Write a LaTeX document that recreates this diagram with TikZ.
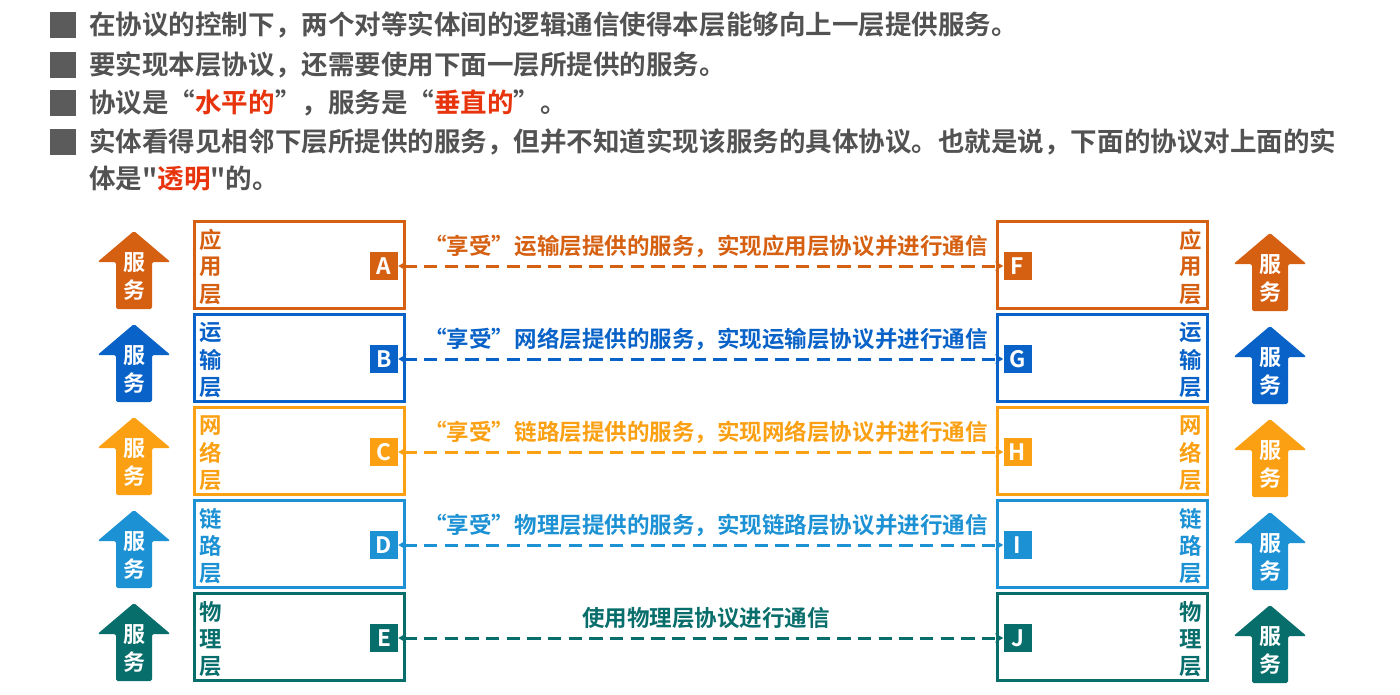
\documentclass[tikz,border=0pt]{standalone}
\usepackage{fontspec}
\setmainfont{Noto Sans CJK SC}[BoldFont={* Bold}]
\newfontfamily\plainq{Noto Sans CJK SC}[BoldFont={* Bold}, Ligatures=ResetAll]
\usetikzlibrary{arrows.meta}
\definecolor{cApp}{RGB}{214,96,18}
\definecolor{cTr}{RGB}{8,98,200}
\definecolor{cNet}{RGB}{250,160,18}
\definecolor{cLink}{RGB}{28,145,212}
\definecolor{cPhy}{RGB}{8,110,108}
\definecolor{cRed}{RGB}{232,52,12}
\definecolor{cGrey}{RGB}{82,82,82}
\tikzset{
  layerbox/.style={draw, line width=2.25pt, fill=white, minimum width=157.5pt, minimum height=65.25pt, inner sep=0pt},
  letterbox/.style={minimum size=21pt, inner sep=0pt, text=white, font=\bfseries\fontsize{17}{17}\selectfont},
  laychar/.style={inner sep=0pt, font=\bfseries\fontsize{16.8}{16.8}\selectfont},
  servchar/.style={inner sep=0pt, text=white, font=\bfseries\fontsize{16.5}{16.5}\selectfont},
  conn/.style={line width=2.25pt, dash pattern=on 10pt off 5.5pt, {Stealth[length=6pt,width=7pt]}-{Stealth[length=6pt,width=7pt]}},
  lbl/.style={inner sep=0pt, font=\bfseries\fontsize{16.9}{16.9}\selectfont},
  toptxt/.style={anchor=west, inner sep=0pt, text=cGrey, font=\bfseries\fontsize{19.9}{19.9}\selectfont},
  bulletsq/.style={fill=cGrey!95, minimum size=19.5pt, inner sep=0pt}
}
\newcommand\servarrow[4]{% #1 name, #2 x center, #3 top y, #4 color
  \fill[#4, rounded corners=1.2pt] (#2,#3) -- (#2+36.5,#3+31) -- (#2+18,#3+31) -- (#2+18,#3+78)
     -- (#2-18,#3+78) -- (#2-18,#3+31) -- (#2-36.5,#3+31) -- cycle;
  \node[servchar] (#1a) at (#2,#3+32) {服};
  \node[servchar] (#1b) at (#2,#3+59) {务};
}
\newcommand\mklayer[9]{% #1 id, #2 color, #3 top y, #4-#6 chars, #7 left letter, #8 right letter, #9 label
  \node[layerbox, draw=#2] (L#1) at (299.5,#3+45) {};
  \node[layerbox, draw=#2] (R#1) at (1102,#3+45) {};
  \node[laychar, text=#2] (L#1c1) at (211,#3+20) {#4};
  \node[laychar, text=#2] (L#1c2) at (211,#3+47) {#5};
  \node[laychar, text=#2] (L#1c3) at (211,#3+75) {#6};
  \node[laychar, text=#2] (R#1c1) at (1191,#3+20) {#4};
  \node[laychar, text=#2] (R#1c2) at (1191,#3+47) {#5};
  \node[laychar, text=#2] (R#1c3) at (1191,#3+75) {#6};
  \node[letterbox, fill=#2] (#7) at (384,#3+46) {#7};
  \node[letterbox, fill=#2] (#8) at (1017.5,#3+46) {#8};
  \draw[conn, #2] (#7) -- (#8);
  \node[lbl, text=#2] (T#1) at (706,#3+26) {#9};
  \servarrow{SL#1}{134}{#3+11}{#2}
  \servarrow{SR#1}{1270}{#3+13}{#2}
}
\begin{document}
\begin{tikzpicture}[x=0.75pt,y=-0.75pt]
\useasboundingbox[fill=white] (0,0) rectangle (1400,694);
% top bullets
\node[bulletsq] (b1) at (63,25) {};
\node[toptxt] (t1) at (89,25) {在协议的控制下，两个对等实体间的逻辑通信使得本层能够向上一层提供服务。};
\node[bulletsq] (b2) at (63,65) {};
\node[toptxt] (t2) at (89,65) {要实现本层协议，还需要使用下面一层所提供的服务。};
\node[bulletsq] (b3) at (63,103) {};
\node[toptxt] (t3) at (89,103) {协议是“\textcolor{cRed}{水平的}”，服务是“\textcolor{cRed}{垂直的}”。};
\node[bulletsq] (b4) at (63,142) {};
\node[toptxt] (t4) at (89,142) {实体看得见相邻下层所提供的服务，但并不知道实现该服务的具体协议。也就是说，下面的协议对上面的实};
\node[toptxt] (t5) at (89,179) {\plainq\bfseries 体是"\textcolor{cRed}{透明}"的。};
% layers
\mklayer{1}{cApp}{220}{应}{用}{层}{A}{F}{“享受”运输层提供的服务，实现应用层协议并进行通信}
\mklayer{2}{cTr}{313}{运}{输}{层}{B}{G}{“享受”网络层提供的服务，实现运输层协议并进行通信}
\mklayer{3}{cNet}{406}{网}{络}{层}{C}{H}{“享受”链路层提供的服务，实现网络层协议并进行通信}
\mklayer{4}{cLink}{499}{链}{路}{层}{D}{I}{“享受”物理层提供的服务，实现链路层协议并进行通信}
\mklayer{5}{cPhy}{592}{物}{理}{层}{E}{J}{使用物理层协议进行通信}
\end{tikzpicture}
\end{document}
